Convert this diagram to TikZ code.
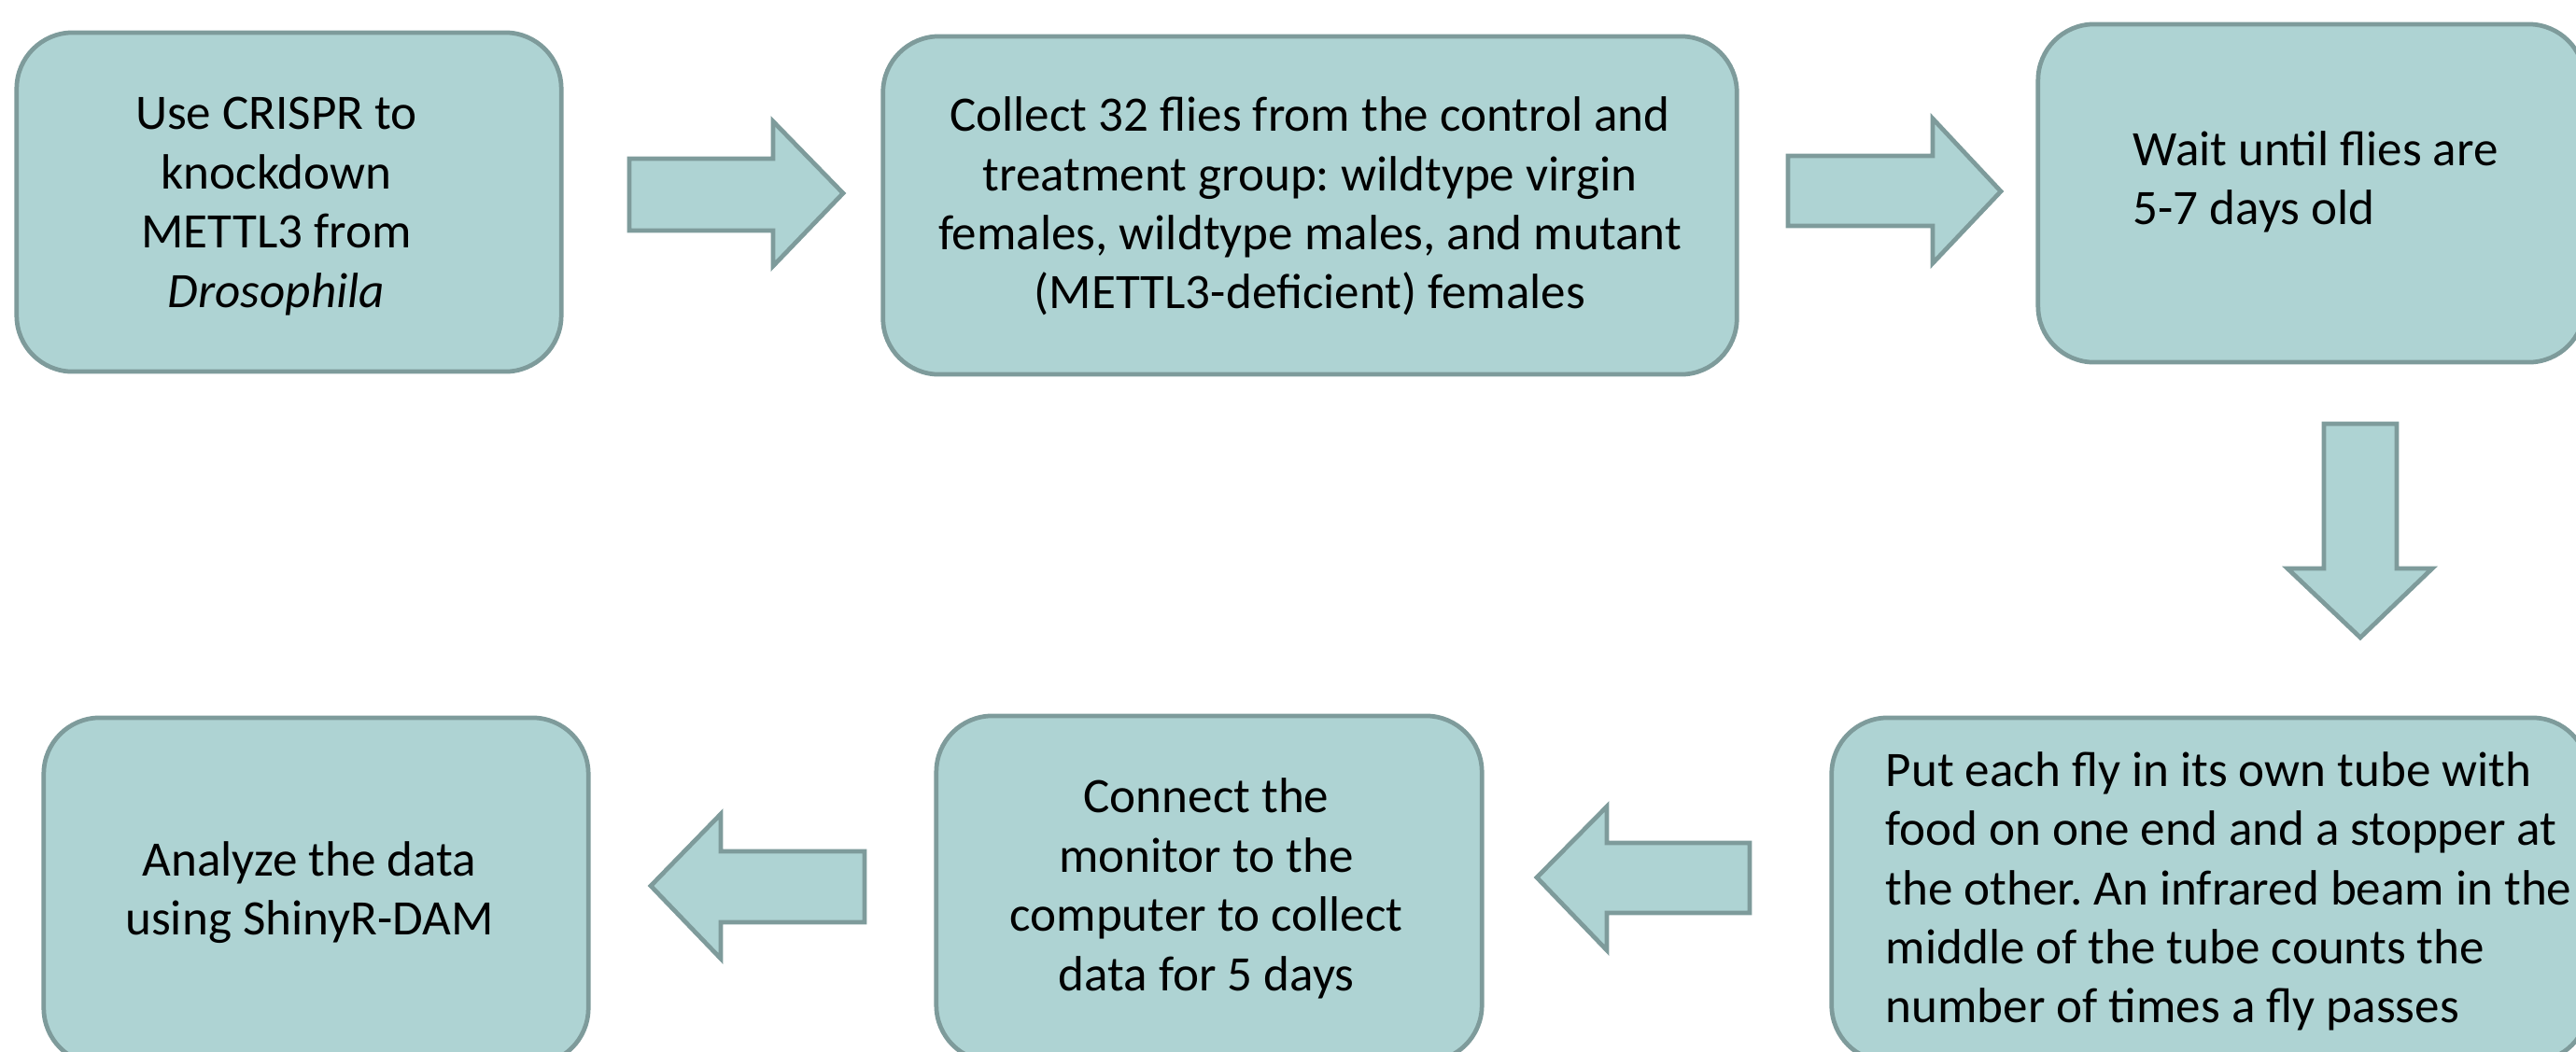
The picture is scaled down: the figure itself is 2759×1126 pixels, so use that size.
\documentclass[tikz,border=0pt]{standalone}
\usepackage{fontspec}
\setmainfont{Carlito}
\begin{document}
\frenchspacing
\begin{tikzpicture}[x=0.01cm,y=-0.01cm]
\definecolor{bfill}{RGB}{174,211,211}
\definecolor{bline}{RGB}{126,155,155}
\tikzset{
 stepbox/.style={draw=bline, fill=bfill, line width=1.35pt, rounded corners=0.6cm, inner sep=0pt},
 txt/.style={font=\fontsize{15.1}{18.05}\selectfont, inner sep=0pt, text=black},
 blockarrow/.style={draw=bline, fill=bfill, line width=1.35pt, line join=miter}
}
\useasboundingbox (0,0) rectangle (2759,1126);
\clip (0,0) rectangle (2759,1126);
% boxes
\node[stepbox, minimum width=5.83cm, minimum height=3.63cm] (b1) at (309.5,216.5) {};
\node[stepbox, minimum width=9.14cm, minimum height=3.62cm] (b2) at (1403,220) {};
\node[stepbox, minimum width=5.85cm, minimum height=3.62cm] (b3) at (2475.5,207) {};
\node[stepbox, minimum width=8.10cm, minimum height=3.68cm] (b4) at (2367,953) {};
\node[stepbox, minimum width=5.84cm, minimum height=3.70cm] (b5) at (1295,952) {};
\node[stepbox, minimum width=5.83cm, minimum height=3.71cm] (b6) at (338.5,954.5) {};
% texts
\node[txt, align=center] (t1) at (296,221)
  {Use CRISPR to\\knockdown\\METTL3 from\\\textit{Drosophila}};
\node[txt, align=center] (t2) at (1403,221)
  {Collect 32 flies from the control and\\treatment group: wildtype virgin\\females, wildtype males, and mutant\\(METTL3-deficient) females};
\node[txt, align=left, anchor=north west] (t3) at (2284,139.5) {Wait until flies are\\5-7 days old};
\node[txt, align=left, anchor=north west] (t4) at (2019,804.5)
  {Put each fly in its own tube with\\food on one end and a stopper at\\the other. An infrared beam in the\\middle of the tube counts the\\number of times a fly passes};
\node[txt, align=center] (t5) at (1292,952)
  {Connect the\\monitor to the\\computer to collect\\data for 5 days};
\node[txt, align=center] (t6) at (331.5,956)
  {Analyze the data\\using ShinyR-DAM};
% block arrows
\draw[blockarrow] (674,170) -- (828,170) -- (828,130) -- (903,207) -- (828,285) -- (828,247) -- (674,247) -- cycle;
\draw[blockarrow] (1915,167) -- (2070,167) -- (2070,127) -- (2143,205) -- (2070,282) -- (2070,242) -- (1915,242) -- cycle;
\draw[blockarrow] (2489,454) -- (2567,454) -- (2567,609) -- (2605,609) -- (2528,683) -- (2450,609) -- (2489,609) -- cycle;
\draw[blockarrow] (1874,903) -- (1721,903) -- (1721,864) -- (1646,940) -- (1721,1018) -- (1721,978) -- (1874,978) -- cycle;
\draw[blockarrow] (926,912) -- (772,912) -- (772,872) -- (697,949) -- (772,1027) -- (772,988) -- (926,988) -- cycle;
\end{tikzpicture}
\end{document}
